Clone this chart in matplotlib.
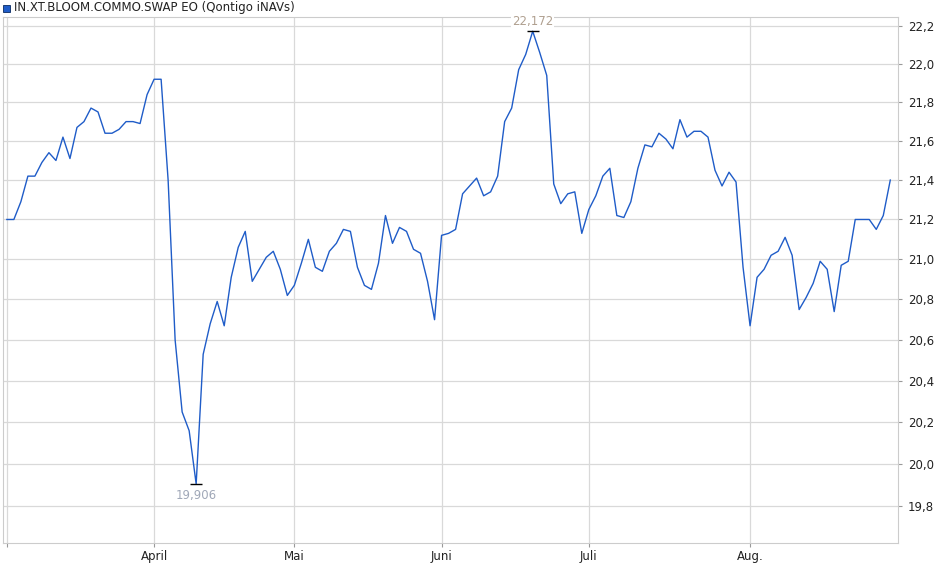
import matplotlib
matplotlib.use("Agg")
import matplotlib.pyplot as plt
from matplotlib.ticker import FixedLocator, NullLocator, FuncFormatter

values = [21.2, 21.2, 21.29, 21.42, 21.42, 21.49, 21.54, 21.50, 21.62, 21.51, 21.67, 21.70, 21.77, 21.75,
          21.64, 21.64, 21.66, 21.70, 21.70, 21.69, 21.84, 21.92, 21.92,
          21.40, 20.6, 20.25, 20.16, 19.906, 20.53, 20.68, 20.79, 20.67, 20.91, 21.06, 21.14, 20.89, 20.95,
          21.01, 21.04, 20.95, 20.82, 20.87, 20.98, 21.10, 20.96, 20.94, 21.04, 21.08, 21.15, 21.14, 20.96,
          20.87, 20.85, 20.98, 21.22, 21.08, 21.16, 21.14, 21.05, 21.03, 20.89, 20.70, 21.12, 21.13,
          21.15, 21.33, 21.37, 21.41, 21.32, 21.34, 21.42, 21.70, 21.77, 21.97, 22.05, 22.172, 22.06, 21.94,
          21.38, 21.28, 21.33, 21.34, 21.13, 21.25, 21.32, 21.42, 21.46, 21.22, 21.21, 21.29, 21.46, 21.58,
          21.57, 21.64, 21.61, 21.56, 21.71, 21.62, 21.65, 21.65, 21.62, 21.45, 21.37, 21.44, 21.39, 20.96,
          20.67, 20.91, 20.95, 21.02, 21.04, 21.11, 21.02, 20.75, 20.81, 20.88, 20.99, 20.95, 20.74, 20.97,
          20.99, 21.20, 21.20, 21.20, 21.15, 21.22, 21.40]
month_labels = ["April", "Mai", "Juni", "Juli", "Aug."]
month_pos = [21, 41, 62, 83, 106]
yticks = [19.8, 20.0, 20.2, 20.4, 20.6, 20.8, 21.0, 21.2, 21.4, 21.6, 21.8, 22.0, 22.2]

fig = plt.figure(figsize=(9.4, 5.79), dpi=100)
ax = fig.add_axes([3/940, 35.6/579, 895/940, 526.7/579])
x = list(range(len(values)))
ax.plot(x, values, color="#1f5cc8", lw=1.0)
ax.set_yscale("log")
ax.set_ylim(19.626, 22.249)
ax.set_xlim(-0.55, 127.1)
ax.yaxis.set_major_locator(FixedLocator(yticks))
ax.yaxis.set_minor_locator(NullLocator())
ax.yaxis.set_major_formatter(FuncFormatter(lambda v, p: f"{v:.1f}".replace(".", ",")))
ax.yaxis.tick_right()
ax.tick_params(axis="y", length=3, color="#999999", labelsize=8.5, labelcolor="#222222", pad=4)
ax.set_xticks([0] + month_pos)
ax.set_xticklabels([""] + month_labels)
ax.tick_params(axis="x", length=3, color="#999999", labelsize=8.5, labelcolor="#222222", pad=2)
ax.grid(True, color="#d9d9d9", lw=0.9)
for s in ax.spines.values():
    s.set_color("#cccccc")

imax = values.index(max(values)); imin = values.index(min(values))
ax.plot([imax], [values[imax]], marker="_", color="black", ms=8, mew=1)
ax.plot([imin], [values[imin]], marker="_", color="black", ms=8, mew=1)
ax.annotate(f"{values[imax]:.3f}".replace(".", ","), (imax, values[imax]), xytext=(0, 2),
            textcoords="offset points", ha="center", va="bottom", fontsize=8.5, color="#b0a090",
            bbox=dict(fc="white", ec="none", pad=0.5))
ax.annotate(f"{values[imin]:.3f}".replace(".", ","), (imin, values[imin]), xytext=(0, -4),
            textcoords="offset points", ha="center", va="top", fontsize=8.5, color="#a0a8b8")

fig.patches.append(plt.Rectangle((3/940, 1 - 12/579), 7/940, 7/579, transform=fig.transFigure,
                                 fc="#1f5cc8", ec="#0a2a60", lw=0.6))
fig.text(14/940, 1 - 8/579, "IN.XT.BLOOM.COMMO.SWAP EO (Qontigo iNAVs)", fontsize=8.5,
         color="#222222", va="center", ha="left")
fig.savefig("out.png", dpi=100)
